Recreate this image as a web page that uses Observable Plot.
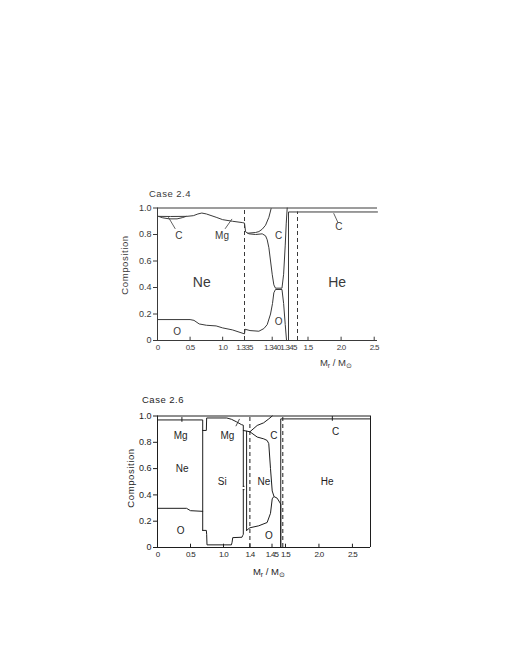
<!DOCTYPE html>
<html><head><meta charset="utf-8">
<script src="https://cdn.jsdelivr.net/npm/d3@7"></script>
<script src="https://cdn.jsdelivr.net/npm/@observablehq/plot@0.6"></script>
<style>body{margin:0;background:#fff;} svg{display:block;} .xtl text{letter-spacing:-0.75px;}</style>
</head><body><div id="c"></div>
<script>
// ---------- shared ----------
const yTicks = [0, 0.2, 0.4, 0.6, 0.8, 1.0];
const yTickLabels = ["0", "0.2", "0.4", "0.6", "0.8", "1.0"];

// ---------- Case 2.4 ----------
// broken x axis: breakpoints (data) and their relative positions along the axis
const p1Domain = [0, 1.335, 1.340, 1.345, 1.35, 1.5, 2.55];
const p1AxisPos = [0, 87, 114.7, 131, 140, 150.5, 220];
const p1XTicks = [0, 0.5, 1.0, 1.335, 1.340, 1.345, 1.5, 2.0, 2.5];
const p1XTickLabels = ["0", "0.5", "1.0", "1.335", "1.340", "1.345", "1.5", "2.0", "2.5"];
const p1Breaks = [1.335, 1.35];
const p1BreakTops = [1.0, 0.97];

const p1NeTopX = [0, 0.2, 0.45, 0.55, 0.62, 0.68, 0.75, 0.9, 1.0, 1.15, 1.3, 1.335, 1.3352, 1.3358, 1.337, 1.3382, 1.3388, 1.3391, 1.3394, 1.3397, 1.340, 1.3405, 1.341, 1.343, 1.3435, 1.344, 1.3443, 1.3446];
const p1NeTopY = [0.937, 0.936, 0.937, 0.942, 0.955, 0.962, 0.955, 0.93, 0.912, 0.9, 0.89, 0.886, 0.82, 0.805, 0.80, 0.805, 0.79, 0.76, 0.7, 0.6, 0.5, 0.42, 0.395, 0.395, 0.5, 0.72, 0.88, 1.0];
const p1OTopX = [0, 0.5, 0.56, 0.64, 0.75, 0.9, 1.0, 1.15, 1.335, 1.3351, 1.336, 1.3376, 1.3385, 1.3391, 1.3397, 1.3401, 1.3405, 1.341, 1.343, 1.3435, 1.344, 1.3444];
const p1OTopY = [0.158, 0.158, 0.152, 0.125, 0.115, 0.11, 0.095, 0.08, 0.05, 0.085, 0.075, 0.07, 0.09, 0.12, 0.2, 0.28, 0.36, 0.385, 0.385, 0.28, 0.12, 0.0];
const p1CUpperX = [1.3356, 1.337, 1.3376, 1.3382, 1.3388, 1.3394, 1.3398];
const p1CUpperY = [0.81, 0.815, 0.822, 0.84, 0.87, 0.93, 0.995];
const p1CLensX = [0.02, 0.08, 0.18, 0.3, 0.38, 0.44];
const p1CLensY = [0.936, 0.926, 0.918, 0.918, 0.927, 0.937];
const p1HeX = [1.345, 1.345, 2.55];
const p1HeY = [0, 0.97, 0.97];
const p1PointerX = [[0.27, 0.17], [1.04, 1.14], [1.95, 1.89]];
const p1PointerY = [[0.845, 0.928], [0.845, 0.915], [0.893, 0.958]];
const p1Labels = ["Ne", "He", "O", "O", "C", "C", "Mg", "C"];
const p1LabelX = [0.68, 1.94, 0.3, 1.342, 1.342, 0.326, 0.99, 1.965];
const p1LabelY = [0.44, 0.44, 0.065, 0.14, 0.79, 0.79, 0.79, 0.855];
const p1LabelSize = [14, 14, 10, 10, 10, 10, 10, 10];

// ---------- Case 2.6 ----------
const p2Domain = [0, 1.4, 1.45, 1.46, 2.77];
const p2AxisPos = [0, 92.4, 114.5, 125.3, 213];
const p2XTicks = [0, 0.5, 1.0, 1.4, 1.45, 1.5, 2.0, 2.5];
const p2XTickLabels = ["0", "0.5", "1.0", "1.4", "1.45", "1.5", "2.0", "2.5"];
const p2Breaks = [1.4, 1.46];
const p2BreakTops = [1.0, 1.0];

const p2MgX = [0, 0.685, 0.685];
const p2MgY = [0.97, 0.97, 0.13];
const p2OLeftX = [0, 0.44, 0.5, 0.685];
const p2OLeftY = [0.298, 0.298, 0.28, 0.275];
const p2SiBottomX = [0.685, 0.74, 0.745, 0.75, 1.12, 1.13, 1.14, 1.28, 1.29, 1.3, 1.3];
const p2SiBottomY = [0.13, 0.13, 0.1, 0.02, 0.02, 0.04, 0.075, 0.078, 0.09, 0.1, 0.44];
const p2SiTopX = [0.685, 0.74, 0.745, 1.05, 1.12, 1.2, 1.27, 1.3, 1.3];
const p2SiTopY = [0.89, 0.89, 0.985, 0.985, 0.975, 0.955, 0.935, 0.93, 0.465];
const p2NeLeftX = [1.35, 1.35];
const p2NeLeftY = [0.13, 0.885];
const p2NeTopX = [1.3, 1.35, 1.4, 1.4165, 1.4315, 1.439, 1.4427, 1.4466, 1.4502, 1.4517];
const p2NeTopY = [0.89, 0.885, 0.88, 0.84, 0.826, 0.814, 0.79, 0.6, 0.43, 0.392];
const p2ORightX = [1.35, 1.4, 1.42, 1.439, 1.4466, 1.4502, 1.4517, 1.4548, 1.457, 1.4581, 1.4581];
const p2ORightY = [0.13, 0.15, 0.165, 0.19, 0.26, 0.37, 0.388, 0.375, 0.345, 0.33, 0.0];
const p2CUpperX = [1.4, 1.4165, 1.431, 1.4427, 1.4502];
const p2CUpperY = [0.88, 0.928, 0.948, 0.978, 1.0];
const p2HeX = [1.4581, 1.4581, 2.77];
const p2HeY = [0, 0.978, 0.978];
const p2NotchY = [0.465, 0.44];
const p2NotchX = [1.3, 1.325];
const p2PlusX = [0.37, 2.2];
const p2PlusY = [0.97, 0.978];
const p2PointerX = [[1.19, 1.24]];
const p2PointerY = [[0.925, 0.975]];
const p2Labels = ["Mg", "Ne", "O", "Si", "Mg", "Ne", "C", "O", "C", "He"];
const p2LabelX = [0.35, 0.375, 0.35, 0.98, 1.06, 1.4315, 1.4517, 1.4428, 2.248, 2.124];
const p2LabelY = [0.85, 0.6, 0.13, 0.5, 0.85, 0.5, 0.85, 0.09, 0.877, 0.5];

// ---------- helpers ----------
const pts = (X, Y) => X.map((x, i) => ({x, y: Y[i]}));
const FONT = "Liberation Sans, Arial, sans-serif";

function panel(cfg) {
  const yMap = new Map(yTicks.map((t, i) => [t, yTickLabels[i]]));
  const brk = d3.scaleLinear().domain(cfg.domain).range(cfg.axisPos);
  const ink = cfg.ink;
  const lineOpts = {x: "x", y: "y", stroke: ink, strokeWidth: 1};
  const marks = [
    Plot.ruleY([0, 1], {stroke: ink, strokeWidth: 1}),
    Plot.ruleX(cfg.frameX, {stroke: ink, strokeWidth: 1}),
    Plot.ruleX(cfg.xTicks, {x: d => d, y1: 0, y2: 0.025, stroke: ink}),
    Plot.text(cfg.xTicks.map((t, i) => ({t, s: cfg.xTickLabels[i]})),
      {x: "t", y: () => 0, text: "s", lineAnchor: "top", dy: 4, fontSize: 8, fill: ink, className: "xtl"}),
    Plot.axisY({ticks: yTicks, tickFormat: d => yMap.get(d), tickSize: 4, tickPadding: 2, label: null, fontSize: 9, fill: ink, stroke: ink}),
    Plot.ruleX(cfg.breaks.map((b, i) => ({x: b, top: cfg.breakTops[i]})), {x: "x", y1: 0, y2: "top", stroke: ink, strokeDasharray: "4,3", strokeWidth: 1}),
    ...cfg.lines.map(([X, Y]) => Plot.line(pts(X, Y), lineOpts)),
    ...cfg.pointers.X.map((X, i) => Plot.line(pts(X, cfg.pointers.Y[i]), {x: "x", y: "y", stroke: ink, strokeWidth: 0.8})),
    ...(cfg.extra || []),
    Plot.text(cfg.labels.map((t, i) => ({t, x: cfg.labelX[i], y: cfg.labelY[i], s: cfg.labelSize ? cfg.labelSize[i] : 10})),
      {x: "x", y: "y", text: "t", fontSize: d => d.s, fill: ink})
  ];
  const svg = Plot.plot({
    width: 510, height: cfg.height,
    marginLeft: 157, marginRight: 510 - 157 - cfg.axisPos[cfg.axisPos.length - 1],
    marginTop: cfg.mt, marginBottom: cfg.mb,
    style: {fontFamily: FONT, background: "#fff", color: ink},
    x: {type: "linear", axis: null, transform: brk, domain: [cfg.axisPos[0], cfg.axisPos[cfg.axisPos.length - 1]]},
    y: {domain: [0, 1]},
    marks
  });
  const s = d3.select(svg);
  s.append("text").attr("x", cfg.title[1]).attr("y", cfg.title[2]).attr("font-size", 9.5)
    .attr("fill", ink).attr("letter-spacing", "0.5px").text(cfg.title[0]);
  s.append("text").attr("transform", `translate(${cfg.yLab[0]},${cfg.yLab[1]}) rotate(-90)`)
    .attr("text-anchor", "middle").attr("font-size", 9.5).attr("fill", ink).attr("letter-spacing", "0.6px").text("Composition");
  const xl = s.append("text").attr("x", cfg.xLab[0]).attr("y", cfg.xLab[1]).attr("text-anchor", "middle")
    .attr("font-size", 9.5).attr("fill", ink);
  xl.append("tspan").text("M");
  xl.append("tspan").attr("font-size", 7).attr("dy", 2).text("r");
  xl.append("tspan").attr("dy", -2).text(" / M");
  xl.append("tspan").attr("font-size", 7).attr("dy", 2).text("⊙");
  return svg;
}

const c = document.getElementById("c");
c.appendChild(panel({
  domain: p1Domain, axisPos: p1AxisPos, height: 380, mt: 207.5, mb: 40,
  xTicks: p1XTicks, xTickLabels: p1XTickLabels, frameX: [0],
  breaks: p1Breaks, breakTops: p1BreakTops, ink: "#3a3a3a",
  lines: [[p1NeTopX, p1NeTopY], [p1OTopX, p1OTopY], [p1CUpperX, p1CUpperY], [p1CLensX, p1CLensY], [p1HeX, p1HeY]],
  pointers: {X: p1PointerX, Y: p1PointerY},
  labels: p1Labels, labelX: p1LabelX, labelY: p1LabelY, labelSize: p1LabelSize,
  title: ["Case 2.4", 170, 197], yLab: [128, 265], xLab: [336, 366]
}));
c.appendChild(panel({
  domain: p2Domain, axisPos: p2AxisPos, height: 280, mt: 35.5, mb: 113,
  xTicks: p2XTicks, xTickLabels: p2XTickLabels, frameX: [0, 2.77],
  breaks: p2Breaks, breakTops: p2BreakTops, ink: "#1e1e1e",
  lines: [[p2MgX, p2MgY], [p2OLeftX, p2OLeftY], [p2SiBottomX, p2SiBottomY], [p2SiTopX, p2SiTopY],
          [p2NeLeftX, p2NeLeftY], [p2NeTopX, p2NeTopY], [p2ORightX, p2ORightY], [p2CUpperX, p2CUpperY], [p2HeX, p2HeY]],
  pointers: {X: p2PointerX, Y: p2PointerY},
  extra: [
    Plot.ruleY(p2NotchY, {y: d => d, x1: p2NotchX[0], x2: p2NotchX[1], stroke: "#1e1e1e", strokeWidth: 1}),
    Plot.ruleX(p2PlusX.map((x, i) => ({x, y: p2PlusY[i]})), {x: "x", y1: d => d.y - 0.018, y2: d => d.y + 0.018, stroke: "#1e1e1e"})
  ],
  labels: p2Labels, labelX: p2LabelX, labelY: p2LabelY,
  title: ["Case 2.6", 163, 23], yLab: [134, 98], xLab: [269, 195]
}));
</script>
</body></html>
